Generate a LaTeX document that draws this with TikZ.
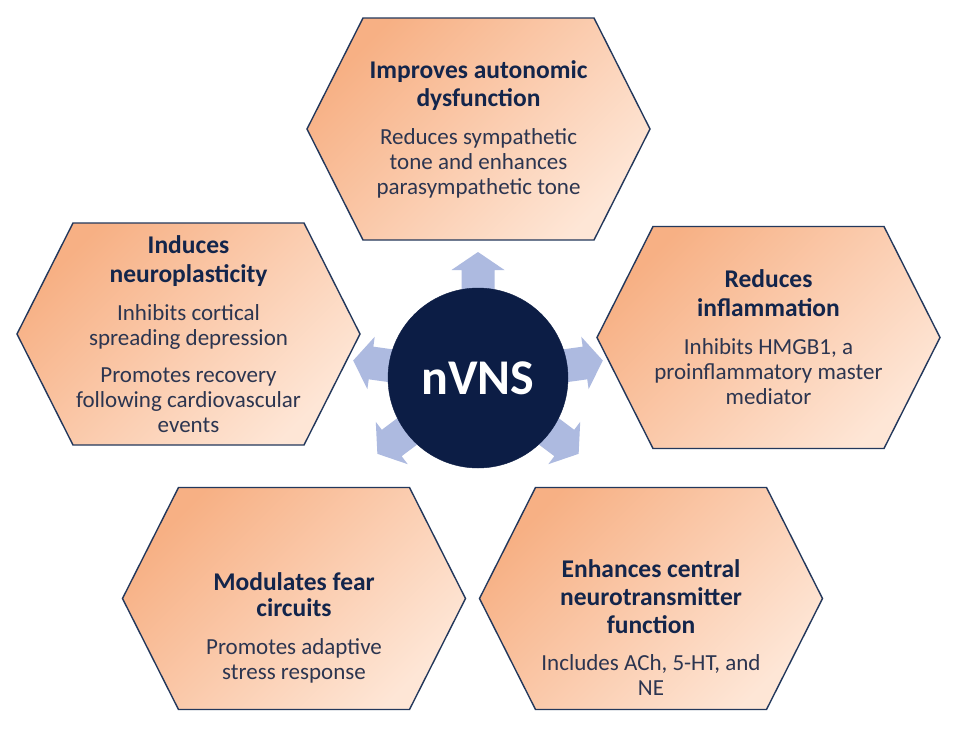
\documentclass[tikz,border=0pt]{standalone}
\usepackage{fontspec}
\setmainfont{Carlito}
\definecolor{hexdark}{HTML}{F7B084}
\definecolor{hexlight}{HTML}{FEE6D6}
\definecolor{hexline}{HTML}{23385C}
\definecolor{titcol}{HTML}{13254B}
\definecolor{subcol}{HTML}{2C3550}
\definecolor{navy}{HTML}{0C1D45}
\definecolor{arrowcol}{HTML}{ADBAE0}
\newcommand{\tl}[1]{{\bfseries\fontsize{25.5}{25}\selectfont\color{titcol}#1}}
\newcommand{\subt}{\fontsize{23}{25}\selectfont}
\tikzset{
  hexshape/.style={draw=hexline, line width=1.4pt, top color=hexdark, bottom color=hexlight, shading angle=45},
  txt/.style={align=center, inner sep=0pt, font=\subt, text=subcol},
  blockarrow/.style={fill=arrowcol, draw=none},
  hexa/.pic={\path[hexshape] (-171.5,0) -- (-115.5,-111) -- (115.5,-111) -- (171.5,0) -- (115.5,111) -- (-115.5,111) -- cycle;}
}
\begin{document}
\begin{tikzpicture}[x=1pt,y=-1pt]
\useasboundingbox[fill=white] (0,0) rectangle (956,734);
% hexagon centres
\coordinate (h1) at (478.5,129);
\coordinate (h2) at (768.5,337.5);
\coordinate (h3) at (651,598.5);
\coordinate (h4) at (294,598.5);
\coordinate (h5) at (188.5,334);
\foreach \h in {h1,h2,h3,h4,h5} {\pic at (\h) {hexa};}
% centre
\coordinate (c) at (478,378);
\foreach \a in {90,8,-37,217,172} {
  \fill[blockarrow, shift={(c)}, rotate=\a] (84,-16.5) -- (108,-16.5) -- (108,-26.5) -- (126,0) -- (108,26.5) -- (108,16.5) -- (84,16.5) -- cycle;
}
\node[circle, fill=navy, draw=navy, minimum size=180pt, inner sep=0pt, text=white, font=\bfseries\fontsize{50}{60}\selectfont] (n) at (c) {nVNS};
% texts
\node[txt] (t1) at (h1) {\tl{Improves autonomic}\\[3pt]\tl{dysfunction}\\[13pt]Reduces sympathetic\\tone and enhances\\parasympathetic tone};
\node[txt] (t2) at (h2) {\tl{Reduces}\\[4pt]\tl{inflammation}\\[13pt]Inhibits HMGB1, a\\proinflammatory master\\mediator};
\node[txt] (t3) at ([yshift=-29pt]h3) {\tl{Enhances central}\\[3pt]\tl{neurotransmitter}\\[3pt]\tl{function}\\[12pt]Includes ACh, 5-HT, and\\NE};
\node[txt] (t4) at ([yshift=-29pt]h4) {\tl{Modulates fear}\\[1pt]\tl{circuits}\\[13pt]Promotes adaptive\\stress response};
\node[txt] (t5) at (h5) {\tl{Induces}\\[4pt]\tl{neuroplasticity}\\[13pt]Inhibits cortical\\spreading depression\\[12pt]Promotes recovery\\following cardiovascular\\events};
\end{tikzpicture}
\end{document}
